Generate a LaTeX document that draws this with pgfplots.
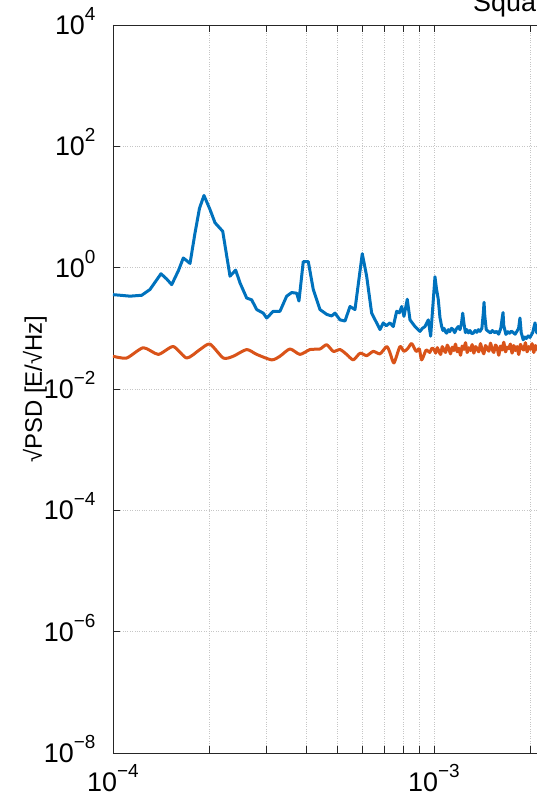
\documentclass[border=0pt]{standalone}
\usepackage{fontspec}
\setmainfont{Liberation Sans}
\usepackage{pgfplots}
\pgfplotsset{compat=1.18}
\definecolor{mblue}{rgb}{0,0.447,0.741}
\definecolor{mred}{rgb}{0.85,0.325,0.098}
\definecolor{axgray}{rgb}{0.15,0.15,0.15}
\newcommand{\tl}[1]{10\raisebox{0.52em}{\fontsize{19}{19}\selectfont #1}}
\begin{document}
\begin{tikzpicture}
\useasboundingbox (-113bp,-45bp) rectangle (424bp,753bp);
\clip (-113bp,-45bp) rectangle (424bp,753bp);
\begin{axis}[
  at={(0bp,0bp)}, anchor=south west,
  scale only axis, width=963bp, height=728bp,
  xmode=log, ymode=log,
  xmin=1e-4, xmax=1e-1, ymin=1e-8, ymax=1e4,
  xtick={1e-4,1e-3,1e-2,1e-1},
  xticklabels={\tl{−4},\tl{−3},{},{}},
  ytick={1e-8,1e-6,1e-4,1e-2,1,1e2,1e4},
  yticklabels={\tl{−8},\tl{−6},\tl{−4},\tl{−2},\tl{0},\tl{2},\tl{4}},
  yminorticks=false,
  tick align=inside, tick pos=both,
  major tick length=7bp, minor tick length=7bp,
  every tick/.style={axgray, line width=0.6bp},
  axis line style={axgray, line width=0.8bp},
  xmajorgrids, xminorgrids, ymajorgrids,
  major grid style={dotted, gray!45, line width=0.6bp},
  minor grid style={dotted, gray!45, line width=0.6bp},
  ticklabel style={font=\fontsize{27}{27}\selectfont, text=black},
  xticklabel style={yshift=-8bp},
  yticklabel style={xshift=-14bp, yshift=4bp},
  ylabel={√PSD [E/√Hz]},
  ylabel style={at={(axis description cs:-0.081,0.5)}, anchor=center, font=\fontsize{24}{24}\selectfont},
  clip=true,
]
\addplot[mblue, line width=3bp, line join=round] coordinates {
(1.000e-4,0.359) (1.060e-4,0.350) (1.130e-4,0.339) (1.229e-4,0.351) (1.304e-4,0.437)
(1.411e-4,0.794) (1.470e-4,0.650) (1.524e-4,0.525) (1.600e-4,0.900) (1.656e-4,1.445) (1.738e-4,1.175)
(1.801e-4,3.72) (1.860e-4,9.5) (1.921e-4,15.5) (2.005e-4,9.12) (2.079e-4,5.50)
(2.197e-4,3.98) (2.315e-4,0.724) (2.411e-4,0.912) (2.487e-4,0.562) (2.609e-4,0.316)
(2.704e-4,0.295) (2.804e-4,0.204) (2.939e-4,0.178) (3.012e-4,0.148) (3.158e-4,0.191)
(3.313e-4,0.191) (3.476e-4,0.339) (3.603e-4,0.389) (3.735e-4,0.380) (3.797e-4,0.282)
(3.916e-4,1.259) (4.059e-4,1.259) (4.207e-4,0.437) (4.414e-4,0.204) (4.632e-4,0.170)
(4.800e-4,0.160) (4.916e-4,0.178) (5.096e-4,0.138) (5.282e-4,0.132) (5.475e-4,0.229)
(5.674e-4,0.204) (5.979e-4,1.698) (6.170e-4,0.724) (6.396e-4,0.178) (6.629e-4,0.123)
(6.788e-4,0.0955) (6.950e-4,0.123) (7.100e-4,0.110) (7.293e-4,0.123) (7.468e-4,0.107)
(7.652e-4,0.191) (7.800e-4,0.180) (7.932e-4,0.229) (8.064e-4,0.158) (8.257e-4,0.302)
(8.419e-4,0.138) (8.727e-4,0.107) (9.045e-4,0.0891) (9.200e-4,0.100) (9.376e-4,0.107)
(9.599e-4,0.138) (9.765e-4,0.0741)
(1.0072e-3,0.708) (1.018e-3,0.45) (1.031e-3,0.302) (1.044e-3,0.15) (1.057e-3,0.107)
(1.066e-3,0.092) (1.075e-3,0.100) (1.085e-3,0.088) (1.095e-3,0.0832) (1.108e-3,0.095)
(1.120e-3,0.088) (1.134e-3,0.100) (1.148e-3,0.0955) (1.160e-3,0.085) (1.175e-3,0.098)
(1.190e-3,0.107) (1.205e-3,0.095) (1.218e-3,0.120) (1.229e-3,0.178) (1.240e-3,0.120)
(1.253e-3,0.085) (1.265e-3,0.0955) (1.280e-3,0.084) (1.295e-3,0.092) (1.310e-3,0.082)
(1.326e-3,0.0832) (1.343e-3,0.092) (1.360e-3,0.086) (1.375e-3,0.095) (1.391e-3,0.0891)
(1.410e-3,0.100) (1.425e-3,0.180) (1.432e-3,0.269) (1.440e-3,0.160) (1.455e-3,0.095)
(1.477e-3,0.0891) (1.500e-3,0.084) (1.520e-3,0.092) (1.545e-3,0.085) (1.568e-3,0.0891)
(1.590e-3,0.080) (1.615e-3,0.100) (1.632e-3,0.150) (1.641e-3,0.182) (1.650e-3,0.110)
(1.676e-3,0.0794) (1.700e-3,0.088) (1.720e-3,0.083) (1.743e-3,0.090) (1.766e-3,0.0851)
(1.790e-3,0.080) (1.810e-3,0.088) (1.835e-3,0.100) (1.853e-3,0.148) (1.870e-3,0.085)
(1.897e-3,0.0646) (1.920e-3,0.072) (1.940e-3,0.068) (1.965e-3,0.075) (1.991e-3,0.0708)
(2.030e-3,0.085) (2.064e-3,0.123) (2.090e-3,0.085) (2.139e-3,0.0794) (2.200e-3,0.085)
};
\addplot[mred, line width=3bp, line join=round, smooth, tension=0.4] coordinates {
(1.000e-4,0.0347) (1.103e-4,0.0324) (1.243e-4,0.0479) (1.384e-4,0.0372) (1.541e-4,0.0501)
(1.697e-4,0.0324) (1.866e-4,0.0447) (2.005e-4,0.0550) (2.207e-4,0.0324) (2.370e-4,0.0347)
(2.609e-4,0.0447) (2.804e-4,0.0372) (3.122e-4,0.0302) (3.313e-4,0.0347) (3.559e-4,0.0457)
(3.824e-4,0.0372) (4.109e-4,0.0447) (4.414e-4,0.0457) (4.632e-4,0.0537) (4.857e-4,0.0417)
(5.096e-4,0.0447) (5.346e-4,0.0372) (5.606e-4,0.0302) (5.884e-4,0.0389) (6.170e-4,0.0355)
(6.470e-4,0.0417) (6.788e-4,0.0380) (7.122e-4,0.0501) (7.293e-4,0.0398) (7.506e-4,0.0269)
(7.835e-4,0.0501) (8.064e-4,0.0417) (8.300e-4,0.0470) (8.522e-4,0.0562) (8.800e-4,0.0417)
(9.000e-4,0.0460) (9.156e-4,0.0302) (9.450e-4,0.0437) (9.700e-4,0.0400) (9.850e-4,0.0470)
(1.000e-3,0.045) (1.012e-3,0.039) (1.024e-3,0.048) (1.036e-3,0.042) (1.049e-3,0.037)
(1.061e-3,0.050) (1.074e-3,0.044) (1.087e-3,0.040) (1.100e-3,0.053) (1.113e-3,0.046)
(1.126e-3,0.038) (1.140e-3,0.049) (1.153e-3,0.043) (1.167e-3,0.055) (1.181e-3,0.041)
(1.195e-3,0.047) (1.210e-3,0.036) (1.224e-3,0.051) (1.239e-3,0.045) (1.254e-3,0.058)
(1.269e-3,0.040) (1.284e-3,0.048) (1.300e-3,0.043) (1.315e-3,0.054) (1.331e-3,0.039)
(1.347e-3,0.050) (1.363e-3,0.046) (1.379e-3,0.041) (1.396e-3,0.056) (1.413e-3,0.044)
(1.430e-3,0.038) (1.447e-3,0.052) (1.464e-3,0.047) (1.482e-3,0.042) (1.500e-3,0.057)
(1.518e-3,0.045) (1.536e-3,0.040) (1.554e-3,0.053) (1.573e-3,0.048) (1.592e-3,0.036)
(1.611e-3,0.051) (1.630e-3,0.044) (1.650e-3,0.059) (1.670e-3,0.041) (1.690e-3,0.049)
(1.710e-3,0.046) (1.731e-3,0.055) (1.751e-3,0.039) (1.772e-3,0.052) (1.794e-3,0.043)
(1.815e-3,0.050) (1.837e-3,0.037) (1.859e-3,0.054) (1.881e-3,0.047) (1.904e-3,0.044)
(1.927e-3,0.058) (1.950e-3,0.041) (1.974e-3,0.050) (1.997e-3,0.045) (2.021e-3,0.056)
(2.046e-3,0.040) (2.070e-3,0.052) (2.095e-3,0.046) (2.120e-3,0.042) (2.146e-3,0.055)
(2.172e-3,0.048) (2.200e-3,0.045)
};
\end{axis}
\node[anchor=base west, font=\fontsize{27}{27}\selectfont, inner sep=0pt] at (360bp,741bp) {Square root of PSD};
\end{tikzpicture}
\end{document}
